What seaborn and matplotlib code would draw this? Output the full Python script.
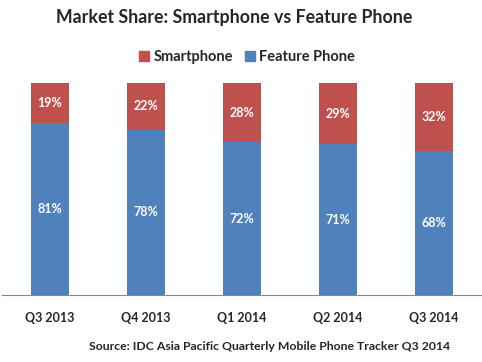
import matplotlib
matplotlib.use("Agg")
import matplotlib.pyplot as plt
import seaborn as sns
import pandas as pd
from matplotlib.patches import Patch

quarters = ["Q3 2013", "Q4 2013", "Q1 2014", "Q2 2014", "Q3 2014"]
smartphone = [19, 22, 28, 29, 32]
feature = [81, 78, 72, 71, 68]

RED = "#C0504D"
BLUE = "#4F81BD"

sns.set_style("white")
plt.rcParams['font.family'] = ['Lato', 'DejaVu Sans']

fig = plt.figure(figsize=(4.82, 3.62), dpi=100)
ax = fig.add_axes([2/482, 1-295/362, 480/482, (295-83)/362])

df = pd.DataFrame({"quarter": quarters, "smart": smartphone, "feature": feature})
df["total"] = df["smart"] + df["feature"]

sns.barplot(data=df, x="quarter", y="total", color=RED, width=0.4, ax=ax, saturation=1, linewidth=0)
sns.barplot(data=df, x="quarter", y="feature", color=BLUE, width=0.4, ax=ax, saturation=1, linewidth=0)

for i, (s, f) in enumerate(zip(smartphone, feature)):
    ax.text(i, f/2, f"{f}%", ha="center", va="center", color="white", fontsize=9, fontweight="bold")
    ax.text(i, f + s/2, f"{s}%", ha="center", va="center", color="white", fontsize=9, fontweight="bold")

ax.set_xlim(-0.5, 4.5)
ax.set_ylim(0, 100)
ax.set_xlabel("")
ax.set_ylabel("")
ax.set_yticks([])
for sp in ["top", "right", "left"]:
    ax.spines[sp].set_visible(False)
ax.spines["bottom"].set_color("#888888")
ax.spines["bottom"].set_linewidth(0.8)
ax.set_xticks(range(5))
ax.set_xticklabels(quarters, fontsize=9, fontweight="bold")
ax.tick_params(axis="x", length=0, pad=12)
ax.set_xticks([-0.5 + k for k in range(6)], minor=True)
ax.tick_params(axis="x", which="minor", length=4, color="#888888", width=0.8)

fig.text(234/482, 1-18/362, "Market Share: Smartphone vs Feature Phone", ha="center", va="center",
         fontsize=12.8, fontweight="bold")
handles = [Patch(color=RED, label="Smartphone"), Patch(color=BLUE, label="Feature Phone")]
fig.legend(handles=handles, loc="center", bbox_to_anchor=(247/482, 1-57/362), ncol=2, frameon=False,
           handlelength=0.7, handleheight=0.7, handletextpad=0.3, columnspacing=0.8,
           prop={"size": 10.5, "weight": "bold"})
fig.text(270/482, 1-347/362, "Source: IDC Asia Pacific Quarterly Mobile Phone Tracker Q3 2014",
         ha="center", va="center", fontsize=8.8, fontweight="bold")

fig.savefig("out.png", dpi=100)
